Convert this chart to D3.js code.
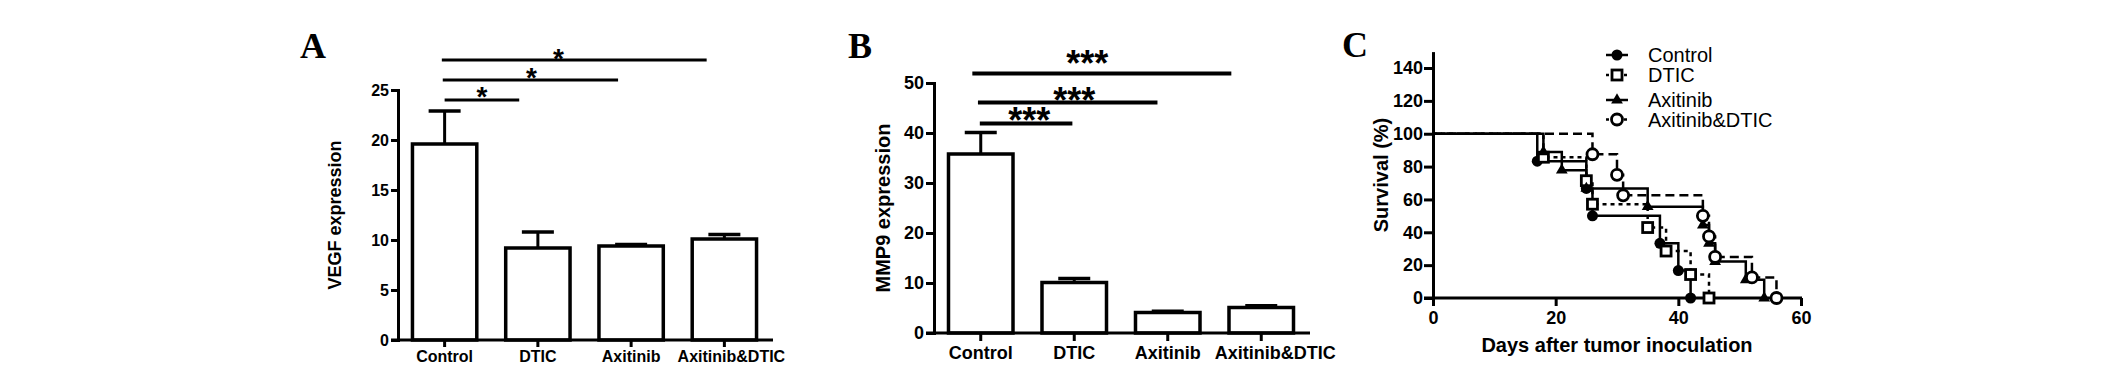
<!DOCTYPE html>
<html lang="en">
<head>
    <meta charset="UTF-8">
    <title>VEGF, MMP9 and survival</title>
    <script src="https://d3js.org/d3.v7.min.js"></script>
    <style>
        body { margin: 0; background: #fff; }
        svg { display: block; font-family: "Liberation Sans", Arial, sans-serif; }
        .tick text { font-weight: bold; fill: #000; }
        .panel-letter { font-family: "Liberation Serif", "Times New Roman", serif; font-weight: bold; font-size: 36px; }
    </style>
</head>
<body>
<svg width="2126" height="369"></svg>
<script>
// groups shared by panels A and B
const groups = ["Control", "DTIC", "Axitinib", "Axitinib&DTIC"];

// panel A - VEGF (mean, SEM)
const vegfMean = [19.6, 9.2, 9.4, 10.1];
const vegfSem = [3.3, 1.6, 0.15, 0.45];
const vegfTicks = [0, 5, 10, 15, 20, 25];
// significance bars: height (data units), end (category index), star x (category index)
const vegfSigY = [24, 26, 28];
const vegfSigEnd = [0.8, 1.86, 2.81];
const vegfStarX = [0.4, 0.93, 1.22];

// panel B - MMP9
const mmpMean = [35.8, 10.1, 4.1, 5.1];
const mmpSem = [4.3, 0.8, 0.25, 0.35];
const mmpTicks = [0, 10, 20, 30, 40, 50];
const mmpSigY = [41.9, 46.1, 51.9];
const mmpSigStart = [-0.01, -0.03, -0.09];
const mmpSigEnd = [0.98, 1.89, 2.68];
const mmpStarX = [0.52, 1.0, 1.14];

// panel C - Kaplan-Meier survival
const ctrlDays = [0, 17, 25, 26, 37, 40, 42];
const ctrlSurv = [100, 83.3, 66.7, 50, 33.3, 16.7, 0];
const dticDays = [0, 18, 25, 26, 35, 38, 42, 45];
const dticSurv = [100, 85.7, 71.4, 57.1, 42.9, 28.6, 14.3, 0];
const axiDays = [0, 18, 21, 25, 35, 44, 45, 46, 51, 54];
const axiSurv = [100, 88.9, 77.8, 66.7, 55.6, 44.4, 33.3, 22.2, 11.1, 0];
const comboDays = [0, 26, 30, 31, 44, 45, 46, 52, 56];
const comboSurv = [100, 87.5, 75, 62.5, 50, 37.5, 25, 12.5, 0];
const dayTicks = [0, 20, 40, 60];
const survTicks = [0, 20, 40, 60, 80, 100, 120, 140];

const svg = d3.select("svg");

function barPanel(o) {
    const g = svg.append("g");
    const x = d3.scaleBand().domain(groups).range([o.left, o.right])
        .paddingInner(0.31).paddingOuter(0.155);
    const y = d3.scaleLinear().domain([0, o.max]).range([o.bottom, o.top]);
    const step = x.step();
    const cx = i => x(groups[i]) + x.bandwidth() / 2;
    const pos = p => cx(0) + p * step;

    // y axis
    const ya = g.append("g").attr("transform", `translate(${o.left},0)`)
        .call(d3.axisLeft(y).tickValues(o.ticks).tickSize(o.tick).tickSizeOuter(0).tickPadding(2));
    ya.select(".domain").attr("stroke-width", 3).attr("stroke-linecap", "square");
    ya.selectAll(".tick line").attr("stroke-width", 3);
    ya.selectAll(".tick text").attr("font-size", o.font);

    // bars + upper error bars
    groups.forEach((name, i) => {
        const m = o.mean[i], s = o.sem[i], c = cx(i);
        g.append("line").attr("x1", c).attr("x2", c).attr("y1", y(m)).attr("y2", y(m + s))
            .attr("stroke", "#000").attr("stroke-width", 3);
        g.append("line").attr("x1", c - 16).attr("x2", c + 16).attr("y1", y(m + s)).attr("y2", y(m + s))
            .attr("stroke", "#000").attr("stroke-width", 3.5);
        g.append("rect").attr("x", x(name)).attr("width", x.bandwidth())
            .attr("y", y(m)).attr("height", y(0) - y(m))
            .attr("fill", "#fff").attr("stroke", "#000").attr("stroke-width", 3.5);
    });

    // x axis
    const xa = g.append("g").attr("transform", `translate(0,${y(0)})`)
        .call(d3.axisBottom(x).tickSize(o.tick).tickSizeOuter(0).tickPadding(o.xpad));
    xa.select(".domain").remove();
    xa.selectAll(".tick line").attr("stroke-width", 3);
    xa.selectAll(".tick text").attr("font-size", o.font)
        .attr("dx", (d, i) => i === groups.length - 1 ? o.lastDx : 0);
    g.append("line").attr("x1", o.left - o.tick).attr("x2", o.right + 2)
        .attr("y1", y(0)).attr("y2", y(0)).attr("stroke", "#000").attr("stroke-width", 3);

    // y title
    g.append("text").attr("transform", `translate(${o.titleX},${(o.top + o.bottom) / 2}) rotate(-90)`)
        .attr("text-anchor", "middle").attr("font-weight", "bold").attr("font-size", o.titleSize)
        .text(o.title);

    // significance
    o.sigY.forEach((v, i) => {
        g.append("line").attr("x1", pos(o.sigStart[i])).attr("x2", pos(o.sigEnd[i]))
            .attr("y1", y(v)).attr("y2", y(v)).attr("stroke", "#000").attr("stroke-width", o.sigW);
        g.append("text").attr("x", pos(o.starX[i])).attr("y", y(v) + o.starDy[i])
            .attr("text-anchor", "middle").attr("font-weight", "bold").attr("font-size", o.starSize)
            .text(o.star);
    });

    svg.append("text").attr("class", "panel-letter").attr("x", o.letterX).attr("y", 58).text(o.letter);
}

barPanel({
    left: 398, right: 771, top: 90, bottom: 340, max: 25, ticks: vegfTicks,
    mean: vegfMean, sem: vegfSem, tick: 7, xpad: 4, font: 16, lastDx: 7,
    title: "VEGF expression", titleX: 341, titleSize: 18,
    sigY: vegfSigY, sigStart: [0, -0.02, -0.03], sigEnd: vegfSigEnd, starX: vegfStarX,
    sigW: 3, star: "*", starSize: 28, starDy: [6, 6.5, 8], letter: "A", letterX: 300
});

barPanel({
    left: 934, right: 1308, top: 83, bottom: 333, max: 50, ticks: mmpTicks,
    mean: mmpMean, sem: mmpSem, tick: 8, xpad: 5, font: 18, lastDx: 14,
    title: "MMP9 expression", titleX: 890, titleSize: 20,
    sigY: mmpSigY, sigStart: mmpSigStart, sigEnd: mmpSigEnd, starX: mmpStarX,
    sigW: 4, star: "***", starSize: 36, starDy: [9.5, 10.5, 2.5], letter: "B", letterX: 848
});

// ---- panel C ----
const gc = svg.append("g");
const xd = d3.scaleLinear().domain([0, 60]).range([1433, 1801]);
const ys = d3.scaleLinear().domain([0, 150]).range([298, 51.6]);

const yac = gc.append("g").attr("transform", "translate(1433,0)")
    .call(d3.axisLeft(ys).tickValues(survTicks).tickSize(9).tickSizeOuter(0).tickPadding(1));
yac.select(".domain").attr("stroke-width", 3);
yac.selectAll(".tick line").attr("stroke-width", 3);
yac.selectAll(".tick text").attr("font-size", 18);

const xac = gc.append("g").attr("transform", "translate(0,298)")
    .call(d3.axisBottom(xd).tickValues(dayTicks).tickSize(8).tickSizeOuter(0).tickPadding(5));
xac.select(".domain").remove();
xac.selectAll(".tick line").attr("stroke-width", 3);
xac.selectAll(".tick text").attr("font-size", 18);
gc.append("line").attr("x1", 1424).attr("x2", 1802).attr("y1", 298).attr("y2", 298)
    .attr("stroke", "#000").attr("stroke-width", 3);

gc.append("text").attr("x", 1617).attr("y", 352).attr("text-anchor", "middle")
    .attr("font-weight", "bold").attr("font-size", 20).text("Days after tumor inoculation");
gc.append("text").attr("transform", "translate(1388,175) rotate(-90)").attr("text-anchor", "middle")
    .attr("font-weight", "bold").attr("font-size", 20).text("Survival (%)");

const curves = [
    { name: "Control", days: ctrlDays, surv: ctrlSurv, dash: null, sym: "circle" },
    { name: "DTIC", days: dticDays, surv: dticSurv, dash: "4,4", sym: "square" },
    { name: "Axitinib", days: axiDays, surv: axiSurv, dash: null, sym: "triangle" },
    { name: "Axitinib&DTIC", days: comboDays, surv: comboSurv, dash: "9,5", sym: "open" }
];

const stepLine = d3.line().x(d => xd(d[0])).y(d => ys(d[1])).curve(d3.curveStepAfter);

function marker(sel, sym) {
    if (sym === "circle") {
        sel.append("circle").attr("r", 5.5).attr("fill", "#000");
    } else if (sym === "square") {
        sel.append("rect").attr("x", -5).attr("y", -5).attr("width", 10).attr("height", 10)
            .attr("fill", "#fff").attr("stroke", "#000").attr("stroke-width", 2.8);
    } else if (sym === "triangle") {
        sel.append("path").attr("d", d3.symbol(d3.symbolTriangle, 60)()).attr("fill", "#000");
    } else {
        sel.append("circle").attr("r", 5.5).attr("fill", "#fff").attr("stroke", "#000").attr("stroke-width", 2.8);
    }
}

curves.forEach(c => {
    const pts = c.days.map((d, i) => [d, c.surv[i]]);
    gc.append("path").attr("d", stepLine(pts)).attr("fill", "none").attr("stroke", "#000")
        .attr("stroke-width", 2.5).attr("stroke-dasharray", c.dash);
});
curves.forEach(c => {
    c.days.forEach((d, i) => {
        if (i === 0) return;
        const m = gc.append("g").attr("transform", `translate(${xd(d)},${ys(c.surv[i])})`);
        marker(m, c.sym);
    });
});

// legend
const legY = [55, 75, 100, 119.5];
curves.forEach((c, i) => {
    const lg = gc.append("g").attr("transform", `translate(1617,${legY[i]})`);
    lg.append("line").attr("x1", -11).attr("x2", 11).attr("stroke", "#000").attr("stroke-width", 2.5)
        .attr("stroke-dasharray", c.dash ? "3,3" : null);
    marker(lg, c.sym);
    lg.append("text").attr("x", 31).attr("dy", "0.36em").attr("font-size", 20).text(c.name);
});

svg.append("text").attr("class", "panel-letter").attr("x", 1342).attr("y", 57).text("C");
</script>
</body>
</html>
